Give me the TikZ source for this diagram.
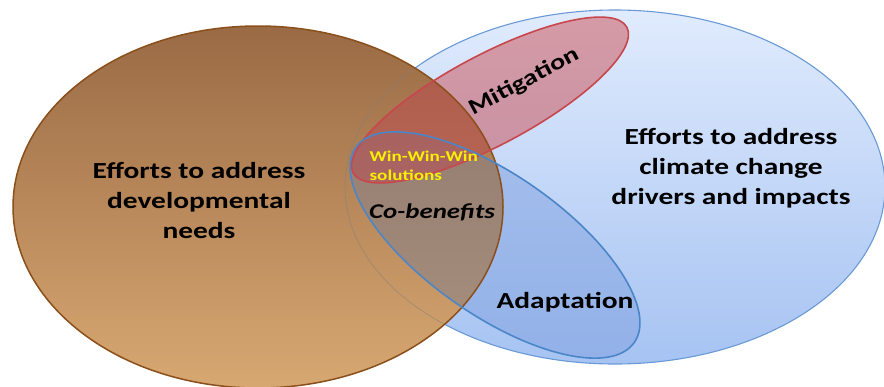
\documentclass[tikz,border=0pt]{standalone}
\usepackage{fontspec}
\setmainfont{Carlito}
\newfontfamily\lbl[FakeStretch=1.28]{Carlito}
\definecolor{brownTop}{HTML}{9A6A45}
\definecolor{brownBot}{HTML}{D8A872}
\definecolor{brownEdge}{HTML}{8A4F1A}
\definecolor{skyTop}{HTML}{E0EBFD}
\definecolor{skyBot}{HTML}{A6C3F2}
\definecolor{skyEdge}{HTML}{6A9AD6}
\definecolor{mitFill}{HTML}{CC4C50}
\definecolor{mitFillB}{HTML}{BB4850}
\definecolor{mitEdge}{HTML}{C8474D}
\definecolor{adaFill}{HTML}{7FA0E0}
\definecolor{adaFillB}{HTML}{808090}
\definecolor{adaEdge}{HTML}{4A86C8}
\definecolor{winYellow}{HTML}{F8F000}
\tikzset{
  bigtext/.style={font=\lbl\bfseries\fontsize{23}{30}\selectfont, align=center, text=black},
  midtext/.style={font=\lbl\bfseries\fontsize{23}{26}\selectfont, text=black},
  devshape/.style={},
}
\def\devpath{(258,207) ellipse [x radius=245, y radius=181]}
\def\clipath{(615,187) ellipse [x radius=270, y radius=177]}
\begin{document}
\begin{tikzpicture}[x=1pt,y=-1pt]
\useasboundingbox (0,0) rectangle (884,386);
% climate change ellipse
\shade[top color=skyTop, bottom color=skyBot] \clipath;
% adaptation and mitigation fills over the climate ellipse
\fill[adaFill, fill opacity=0.5, rotate around={-35:(495,245)}]
  (495,245) ellipse [x radius=170, y radius=70];
\fill[mitFill, fill opacity=0.5, rotate around={28:(490,100)}]
  (490,100) ellipse [x radius=155, y radius=45];
\draw[skyEdge, line width=1.1pt] \clipath;
% development ellipse
\shade[top color=brownTop, bottom color=brownBot] \devpath;
\begin{scope}
  \clip \devpath;
  \fill[adaFillB, fill opacity=0.5, rotate around={-35:(495,245)}]
    (495,245) ellipse [x radius=170, y radius=70];
  \fill[mitFillB, fill opacity=0.5, rotate around={28:(490,100)}]
    (490,100) ellipse [x radius=155, y radius=45];
  \draw[gray, opacity=0.45, line width=0.9pt] \clipath;
\end{scope}
\draw[brownEdge, line width=1.5pt] \devpath;
% borders of mitigation and adaptation
\draw[mitEdge, line width=1.6pt, rotate around={28:(490,100)}]
  (490,100) ellipse [x radius=155, y radius=45];
\draw[adaEdge, line width=1.6pt, rotate around={-35:(495,245)}]
  (495,245) ellipse [x radius=170, y radius=70];
% texts
\node[bigtext] (dev) at (199,200) {Efforts to address\\developmental\\needs};
\node[bigtext] (cli) at (731,168) {Efforts to address\\climate change\\drivers and impacts};
\node[midtext, font=\lbl\bfseries\fontsize{22}{26}\selectfont, rotate=28] (mit) at (524,82) {Mitigation};
\node[midtext] (ada) at (565,302) {Adaptation};
\node[font=\lbl\itshape\bfseries\fontsize{21}{24}\selectfont] (cob) at (432,212) {Co-benefits};
\node[font=\lbl\bfseries\fontsize{15}{19}\selectfont, text=winYellow, align=left, anchor=west] (win) at (366,166) {Win-Win-Win\\solutions};
\end{tikzpicture}
\end{document}
